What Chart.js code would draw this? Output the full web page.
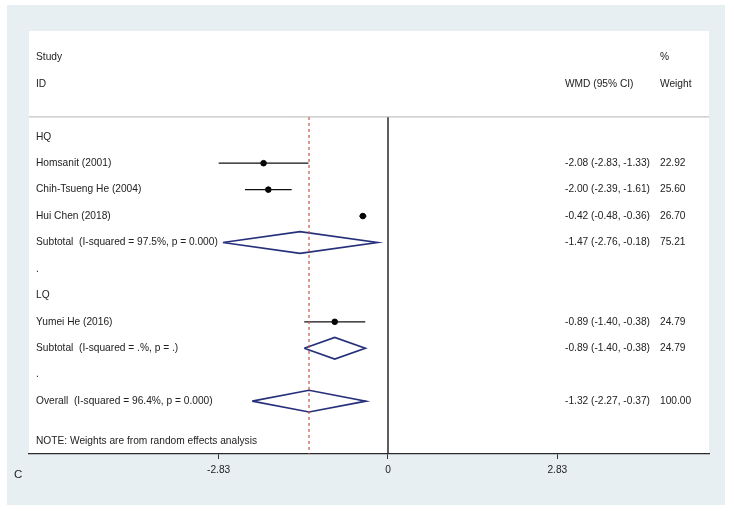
<!DOCTYPE html>
<html>
<head>
<meta charset="utf-8">
<script src="https://cdn.jsdelivr.net/npm/chart.js@4/dist/chart.umd.min.js"></script>
<style>
  html, body { margin: 0; padding: 0; background: #ffffff; }
  #wrap { position: relative; width: 734px; height: 511px; }
  #panel {
    position: absolute; left: 7px; top: 5px; width: 718px; height: 500px;
    background: #e8eff3;
  }
  #forest { position: absolute; left: 0; top: 0; }
</style>
</head>
<body>
<div id="wrap">
  <div id="panel"></div>
  <canvas id="forest" width="734" height="511"></canvas>
</div>
<script>
// study rows (row index counts down from the HQ header)
const studyNames = ["Homsanit (2001)", "Chih-Tsueng He (2004)", "Hui Chen (2018)", "Yumei He (2016)"];
const studyRows = [1, 2, 3, 7];
const studyEst = [-2.08, -2.00, -0.42, -0.89];
const studyLo = [-2.83, -2.39, -0.48, -1.40];
const studyHi = [-1.33, -1.61, -0.36, -0.38];
const studyCI = ["-2.08 (-2.83, -1.33)", "-2.00 (-2.39, -1.61)", "-0.42 (-0.48, -0.36)", "-0.89 (-1.40, -0.38)"];
const studyWeight = ["22.92", "25.60", "26.70", "24.79"];

// pooled estimates (diamonds)
const poolLabels = ["Subtotal  (I-squared = 97.5%, p = 0.000)", "Subtotal  (I-squared = .%, p = .)", "Overall  (I-squared = 96.4%, p = 0.000)"];
const poolRows = [4, 8, 10];
const poolEst = [-1.47, -0.89, -1.32];
const poolLo = [-2.76, -1.40, -2.27];
const poolHi = [-0.18, -0.38, -0.37];
const poolCI = ["-1.47 (-2.76, -0.18)", "-0.89 (-1.40, -0.38)", "-1.32 (-2.27, -0.37)"];
const poolWeight = ["75.21", "24.79", "100.00"];

// other text rows
const groupLabels = ["HQ", ".", "LQ", "."];
const groupRows = [0, 5, 6, 9];
const noteText = "NOTE: Weights are from random effects analysis";
const noteRow = 11.5;

const xTicks = [-2.83, 0, 2.83];
const xMin = -6.0, xMax = 5.365;
const yMin = -4, yMax = 12;
const headerRow = -0.75;

const diamondHalf = 0.41;

// CI whiskers, broken by NaN points
const whiskers = [];
studyRows.forEach((r, i) => {
  whiskers.push({ x: studyLo[i], y: r }, { x: studyHi[i], y: r }, { x: NaN, y: NaN });
});

const diamonds = [];
poolRows.forEach((r, i) => {
  diamonds.push(
    { x: poolLo[i], y: r }, { x: poolEst[i], y: r - diamondHalf },
    { x: poolHi[i], y: r }, { x: poolEst[i], y: r + diamondHalf },
    { x: poolLo[i], y: r }, { x: NaN, y: NaN }
  );
});

const points = studyRows.map((r, i) => ({ x: studyEst[i], y: r }));
const overall = poolEst[poolEst.length - 1];

const FONT = "Liberation Sans, Arial, sans-serif";
const TXT = "#222222";
const FS = 10.2;

const textPlugin = {
  id: "forestText",
  beforeDraw(c) {
    const { ctx, chartArea } = c;
    ctx.save();
    ctx.fillStyle = "#ffffff";
    ctx.fillRect(chartArea.left, chartArea.top, chartArea.right - chartArea.left, chartArea.bottom - chartArea.top);
    ctx.restore();
  },
  afterDraw(c) {
    const { ctx, chartArea } = c;
    const ys = c.scales.y;
    const xLeft = chartArea.left + 7;
    const xCI = 565;
    const xW = 660;
    ctx.save();
    ctx.fillStyle = TXT;
    ctx.font = FS + "px " + FONT;
    ctx.textBaseline = "middle";
    ctx.textAlign = "left";
    const put = (t, x, r) => ctx.fillText(t, x, ys.getPixelForValue(r));
    put("Study", xLeft, -3);
    put("ID", xLeft, -2);
    put("%", xW, -3);
    put("WMD (95% CI)", xCI, -2);
    put("Weight", xW, -2);
    groupLabels.forEach((t, i) => put(t, xLeft, groupRows[i]));
    studyNames.forEach((t, i) => {
      put(t, xLeft, studyRows[i]);
      put(studyCI[i], xCI, studyRows[i]);
      put(studyWeight[i], xW, studyRows[i]);
    });
    poolLabels.forEach((t, i) => {
      put(t, xLeft, poolRows[i]);
      put(poolCI[i], xCI, poolRows[i]);
      put(poolWeight[i], xW, poolRows[i]);
    });
    put(noteText, xLeft, noteRow);
    ctx.font = "11.5px " + FONT;
    ctx.fillText("C", 14, 475);
    ctx.restore();
  }
};

new Chart(document.getElementById("forest"), {
  type: "scatter",
  data: {
    datasets: [
      {
        label: "header rule",
        data: [{ x: xMin, y: headerRow }, { x: xMax, y: headerRow }],
        showLine: true, borderColor: "#b4b4b4", borderWidth: 1, pointRadius: 0
      },
      {
        label: "overall",
        data: [{ x: overall, y: headerRow }, { x: overall, y: yMax }],
        showLine: true, borderColor: "#c44f45", borderWidth: 1.2, borderDash: [3, 3], pointRadius: 0
      },
      {
        label: "null",
        data: [{ x: 0, y: headerRow }, { x: 0, y: yMax }],
        showLine: true, borderColor: "#2a2a2a", borderWidth: 1.5, pointRadius: 0
      },
      {
        label: "CI",
        data: whiskers,
        showLine: true, spanGaps: false, borderColor: "#111111", borderWidth: 1.3, pointRadius: 0
      },
      {
        label: "pooled",
        data: diamonds,
        showLine: true, spanGaps: false, borderColor: "#26307a", borderWidth: 1.7, pointRadius: 0
      },
      {
        label: "estimate",
        data: points,
        backgroundColor: "#000000", borderColor: "#000000", pointRadius: 2.8, pointStyle: "circle"
      }
    ]
  },
  options: {
    responsive: false,
    animation: false,
    layout: { padding: { left: 29, right: 25, top: 31, bottom: 0 } },
    plugins: { legend: { display: false }, tooltip: { enabled: false } },
    scales: {
      x: {
        type: "linear", min: xMin, max: xMax,
        afterBuildTicks: (s) => { s.ticks = xTicks.map((v) => ({ value: v })); },
        afterFit: (s) => { s.height = 57; },
        grid: { drawOnChartArea: false, drawTicks: true, tickLength: 5, color: "#333333" },
        border: { color: "#2a2a2a", width: 1.3 },
        ticks: {
          padding: 5, color: TXT, font: { family: FONT, size: FS },
          callback: (v) => (v === 0 ? "0" : v.toFixed(2))
        }
      },
      y: {
        type: "linear", min: yMin, max: yMax, reverse: true, display: false
      }
    }
  },
  plugins: [textPlugin]
});
</script>
</body>
</html>
